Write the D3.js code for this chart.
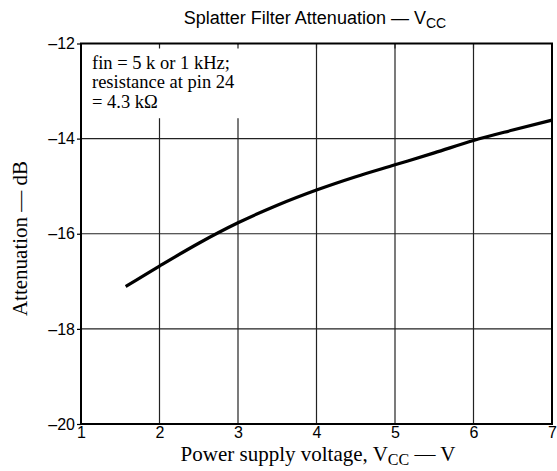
<!DOCTYPE html>
<html>
<head>
<meta charset="utf-8">
<script src="https://cdn.jsdelivr.net/npm/d3@7"></script>
<style>
  body { margin: 0; background: #fff; }
  .serif { font-family: "Liberation Serif", "Times New Roman", serif; }
</style>
</head>
<body>
<div id="chart"></div>
<script>
// supply voltage (V) vs attenuation (dB)
var voltage = [1.57, 2, 2.5, 3, 3.5, 4, 4.5, 5, 5.5, 6, 6.5, 7];
var attenuation = [-17.11, -16.68, -16.2, -15.77, -15.4, -15.08, -14.8, -14.55, -14.3, -14.04, -13.82, -13.61];
var xTicks = [1, 2, 3, 4, 5, 6, 7];
var yTicks = [-20, -18, -16, -14, -12];
var noteLines = ["fin = 5 k or 1 kHz;", "resistance at pin 24", "= 4.3 k\u03A9"];

var W = 557, H = 471;
var margin = { top: 43.5, right: 5, bottom: 47, left: 81 };
var width = W - margin.left - margin.right;
var height = H - margin.top - margin.bottom;

var svg = d3.select("#chart").append("svg")
  .attr("width", W)
  .attr("height", H);

var g = svg.append("g")
  .attr("transform", "translate(" + margin.left + "," + margin.top + ")");

var x = d3.scaleLinear().domain([1, 7]).range([0, width]);
var y = d3.scaleLinear().domain([-20, -12]).range([height, 0]);

var fmt = function(d) { return d < 0 ? "\u2013" + Math.abs(d) : d; };

// grid
g.append("g").selectAll("line")
  .data(xTicks.slice(1, -1))
  .enter().append("line")
  .attr("x1", function(d) { return x(d); })
  .attr("x2", function(d) { return x(d); })
  .attr("y1", 0).attr("y2", height)
  .attr("stroke", "#222").attr("stroke-width", 1.2);

g.append("g").selectAll("line")
  .data(yTicks.slice(1, -1))
  .enter().append("line")
  .attr("y1", function(d) { return y(d); })
  .attr("y2", function(d) { return y(d); })
  .attr("x1", 0).attr("x2", width)
  .attr("stroke", "#222").attr("stroke-width", 1.2);

// note box covers the grid
g.append("rect")
  .attr("x", 1).attr("y", 1)
  .attr("width", x(3) + 8).attr("height", y(-13.55))
  .attr("fill", "#fff");

// short ticks along the top edge
g.append("g").selectAll("line")
  .data(xTicks.slice(1, -1))
  .enter().append("line")
  .attr("x1", function(d) { return x(d); })
  .attr("x2", function(d) { return x(d); })
  .attr("y1", 0).attr("y2", 5)
  .attr("stroke", "#222").attr("stroke-width", 1.2);

var note = g.append("text")
  .attr("class", "serif")
  .attr("font-size", "18.5px")
  .attr("x", 11).attr("y", 25);
note.selectAll("tspan")
  .data(noteLines)
  .enter().append("tspan")
  .attr("x", 11)
  .attr("dy", function(d, i) { return i == 0 ? 0 : 19.5; })
  .text(function(d) { return d; });

// curve
var line = d3.line()
  .x(function(d, i) { return x(voltage[i]); })
  .y(function(d) { return y(d); })
  .curve(d3.curveMonotoneX);

g.append("path")
  .datum(attenuation)
  .attr("fill", "none")
  .attr("stroke", "#000")
  .attr("stroke-width", 3.2)
  .attr("d", line);

// frame
g.append("rect")
  .attr("width", width).attr("height", height)
  .attr("fill", "none").attr("stroke", "#000").attr("stroke-width", 2);

// axes
var gx = g.append("g")
  .attr("transform", "translate(0," + height + ")")
  .call(d3.axisBottom(x).tickValues(xTicks).tickSize(0).tickPadding(3).tickFormat(d3.format("d")));
gx.select(".domain").remove();

var gy = g.append("g")
  .call(d3.axisLeft(y).tickValues(yTicks).tickSize(4).tickPadding(2).tickFormat(fmt));
gy.select(".domain").remove();
gy.selectAll(".tick line").attr("stroke", "#000").attr("stroke-width", 1.2);

[gx, gy].forEach(function(ax) {
  ax.attr("font-size", null).attr("font-family", null);
  ax.selectAll(".tick text")
    .style("font-family", "'Liberation Sans', Arial, sans-serif")
    .style("font-size", "16px")
    .attr("fill", "#000");
});

// title
var title = svg.append("text")
  .attr("x", 315).attr("y", 24)
  .attr("text-anchor", "middle")
  .attr("font-family", "Liberation Sans, Arial, sans-serif")
  .attr("font-size", "18px");
title.append("tspan").text("Splatter Filter Attenuation \u2014 V");
title.append("tspan").attr("font-size", "14px").attr("dy", 4).text("CC");

// x title
var xt = svg.append("text")
  .attr("class", "serif")
  .attr("x", 318).attr("y", 461)
  .attr("text-anchor", "middle")
  .attr("font-size", "21px");
xt.append("tspan").text("Power supply voltage, V");
xt.append("tspan").attr("font-size", "16px").attr("dy", 4).text("CC");
xt.append("tspan").attr("dy", -4).text(" \u2014 V");

// y title
svg.append("text")
  .attr("class", "serif")
  .attr("transform", "translate(27," + (margin.top + y(-16.1)) + ") rotate(-90)")
  .attr("text-anchor", "middle")
  .attr("font-size", "21px")
  .text("Attenuation \u2014 dB");
</script>
</body>
</html>
